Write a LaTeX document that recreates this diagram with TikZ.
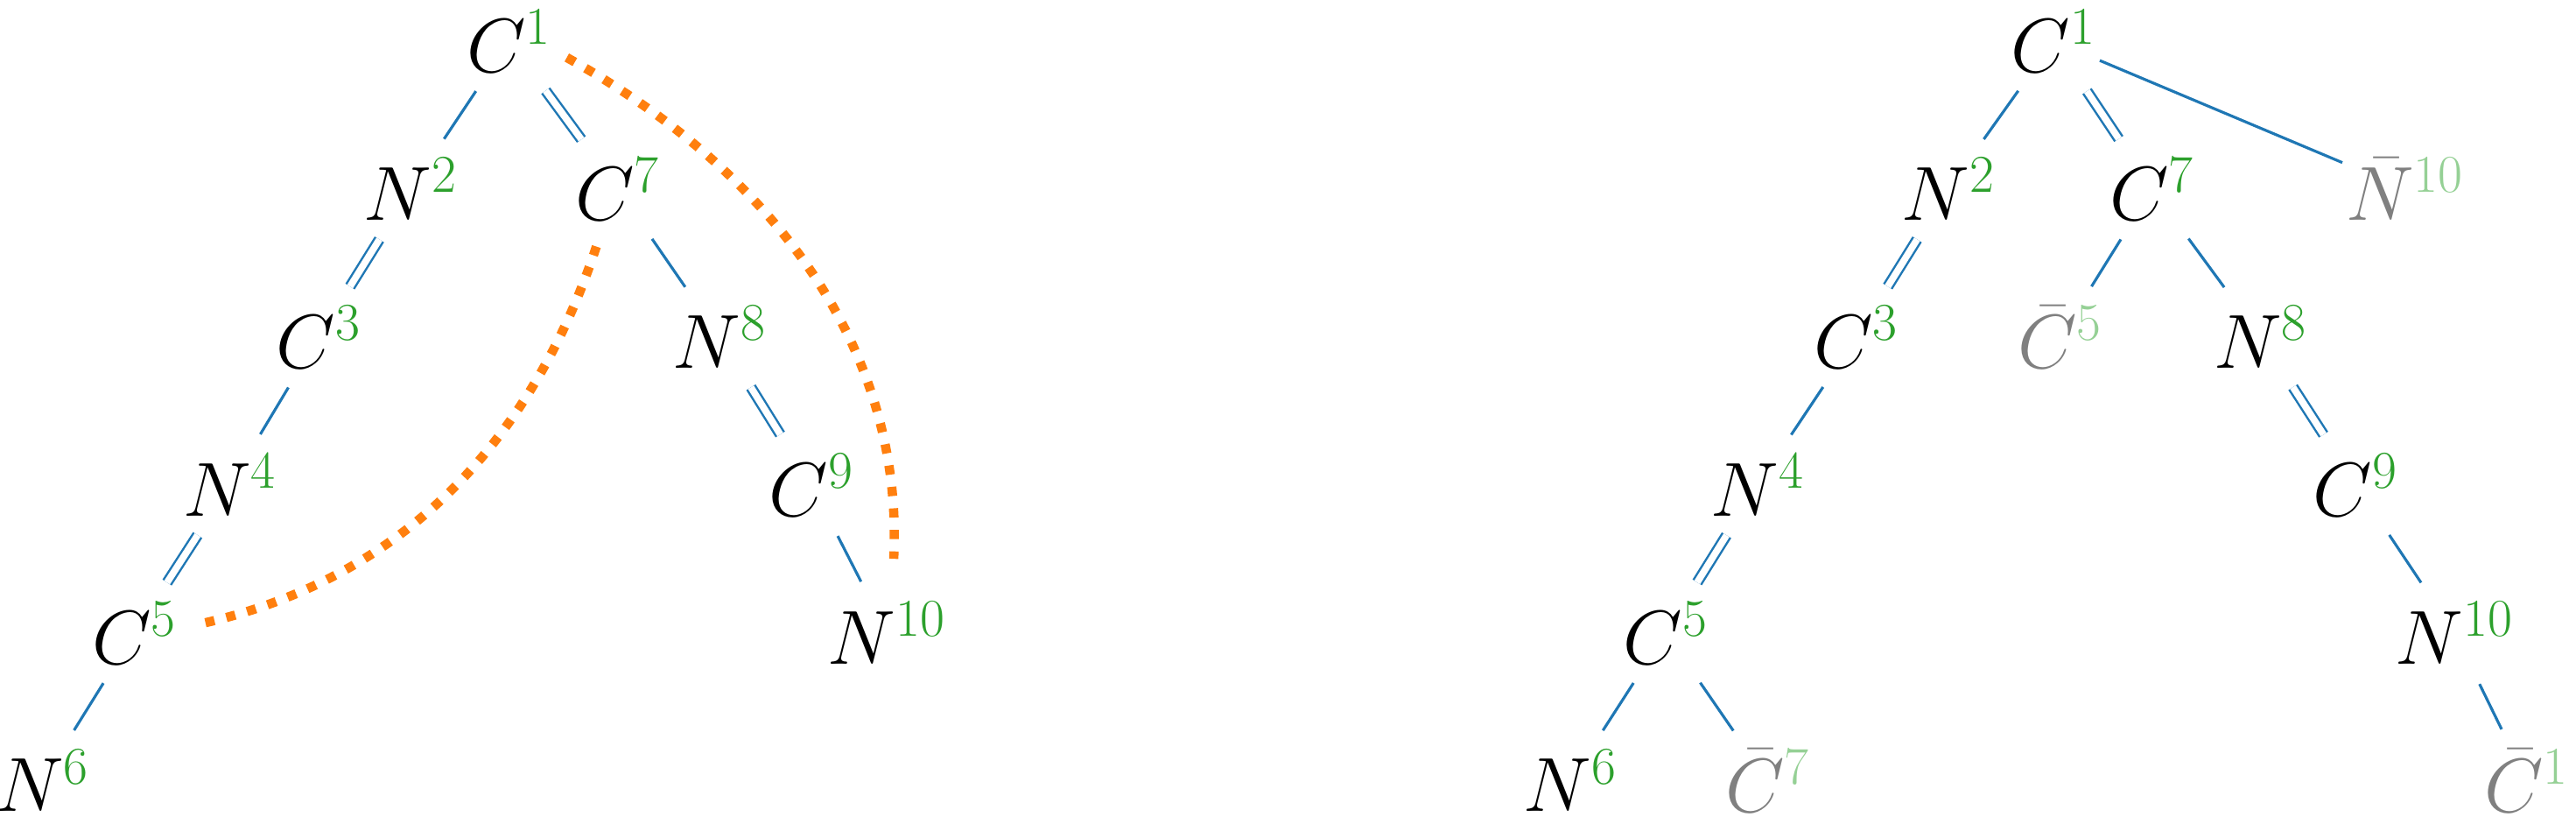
\documentclass[tikz,border=0pt]{standalone}
\usepackage{amsmath}
\usepackage{amssymb}
\definecolor{bondblue}{HTML}{1F77B4}
\definecolor{idxgreen}{HTML}{2CA02C}
\definecolor{ringorange}{HTML}{FF7F0E}
\newcommand{\at}[2]{$#1^{\textcolor{idxgreen}{#2}}$}
\newcommand{\ghost}[2]{\textcolor{gray}{$\bar{#1}^{\textcolor{idxgreen!50}{#2}}$}}
\begin{document}
\begin{tikzpicture}[x=0.01877cm, y=-0.01877cm, atom/.style={font=\fontsize{24}{28}\selectfont, inner sep=1pt}, single/.style={bondblue, line width=0.9pt, shorten <=6pt, shorten >=6pt}, dbl/.style={single, double=white, double distance=2.2pt, line width=0.7pt}, ring/.style={ringorange, line width=3pt, dash pattern=on 3pt off 4pt}]

  \useasboundingbox (0,0) rectangle (1568,501);

  % left tree
  \node[atom] (lc1) at (310,25) {\at{C}{1}};
  \node[atom] (ln2) at (250,115) {\at{N}{2}};
  \node[atom] (lc7) at (376,115) {\at{C}{7}};
  \node[atom] (lc3) at (194,205) {\at{C}{3}};
  \node[atom] (ln8) at (438,205) {\at{N}{8}};
  \node[atom] (ln4) at (140,295) {\at{N}{4}};
  \node[atom] (lc9) at (494,295) {\at{C}{9}};
  \node[atom] (lc5) at (82,385) {\at{C}{5}};
  \node[atom] (ln10) at (540,385) {\at{N}{10}};
  \node[atom] (ln6) at (26,475) {\at{N}{6}};

  \draw[single] (lc1) -- (ln2);
  \draw[dbl] (lc1) -- (lc7);
  \draw[dbl] (ln2) -- (lc3);
  \draw[single] (lc7) -- (ln8);
  \draw[single] (lc3) -- (ln4);
  \draw[dbl] (ln8) -- (lc9);
  \draw[dbl] (ln4) -- (lc5);
  \draw[single] (lc9) -- (ln10);
  \draw[single] (lc5) -- (ln6);

  \draw[ring] (345,35) .. controls (480,110) and (550,220) .. (544,340);
  \draw[ring] (363,150) .. controls (330,250) and (260,350) .. (120,380);

  % right tree
  \node[atom] (rc1) at (1250,25) {\at{C}{1}};
  \node[atom] (rn2) at (1186,115) {\at{N}{2}};
  \node[atom] (rc7) at (1310,115) {\at{C}{7}};
  \node[atom] (rn10) at (1464,115) {\ghost{N}{10}};
  \node[atom] (rc3) at (1130,205) {\at{C}{3}};
  \node[atom] (rc5b) at (1254,205) {\ghost{C}{5}};
  \node[atom] (rn8) at (1376,205) {\at{N}{8}};
  \node[atom] (rn4) at (1070,295) {\at{N}{4}};
  \node[atom] (rc9) at (1434,295) {\at{C}{9}};
  \node[atom] (rc5) at (1014,385) {\at{C}{5}};
  \node[atom] (rn10b) at (1494,385) {\at{N}{10}};
  \node[atom] (rn6) at (956,475) {\at{N}{6}};
  \node[atom] (rc7b) at (1076,475) {\ghost{C}{7}};
  \node[atom] (rc1b) at (1538,475) {\ghost{C}{1}};

  \draw[single] (rc1) -- (rn2);
  \draw[dbl] (rc1) -- (rc7);
  \draw[single, shorten <=0pt, shorten >=0pt] (rc1) -- (rn10);
  \draw[dbl] (rn2) -- (rc3);
  \draw[single] (rc7) -- (rc5b);
  \draw[single] (rc7) -- (rn8);
  \draw[single] (rc3) -- (rn4);
  \draw[dbl] (rn8) -- (rc9);
  \draw[dbl] (rn4) -- (rc5);
  \draw[single] (rc9) -- (rn10b);
  \draw[single] (rc5) -- (rn6);
  \draw[single] (rc5) -- (rc7b);
  \draw[single] (rn10b) -- (rc1b);
\end{tikzpicture}
\end{document}
